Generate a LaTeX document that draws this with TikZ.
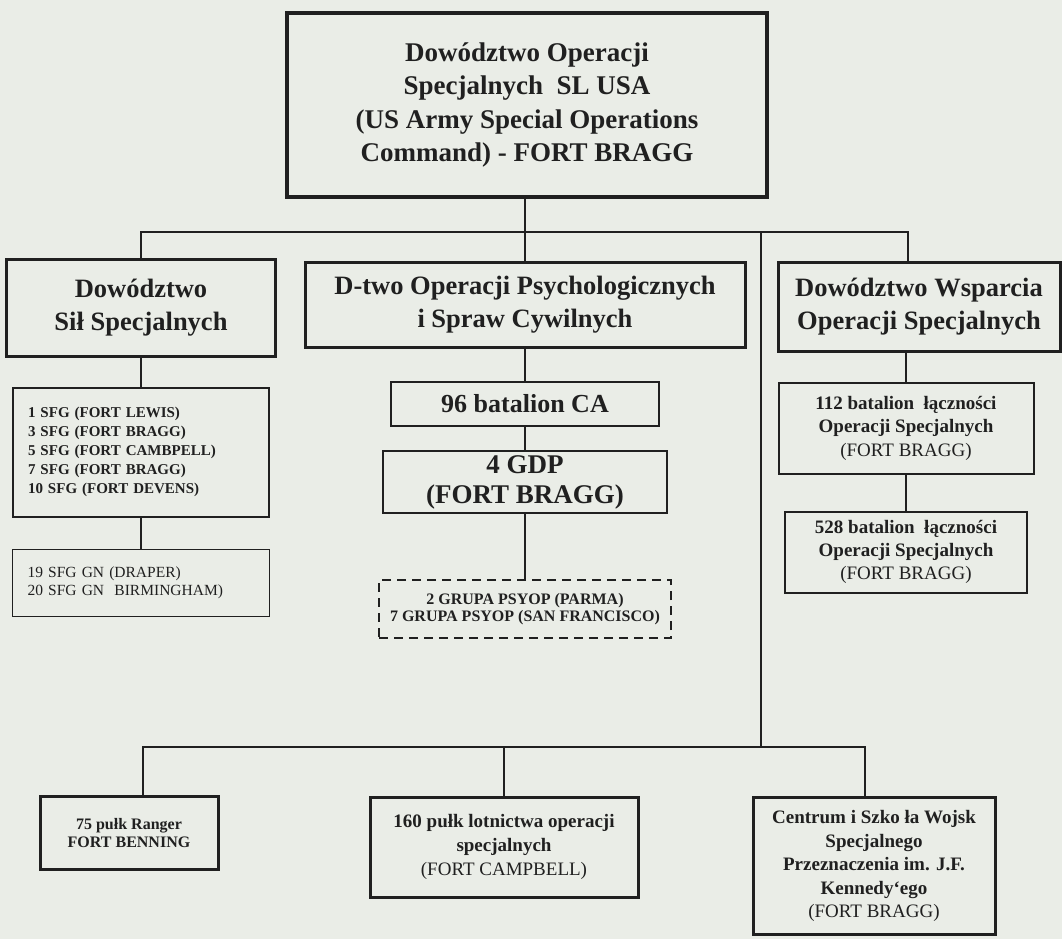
\documentclass[tikz,border=0pt]{standalone}
\usepackage{fontspec}
\setmainfont{Liberation Serif}
\usepackage{tikz}
\usetikzlibrary{positioning, calc}
\usepackage{xcolor}
\definecolor{scanbg}{RGB}{234, 237, 231}
\definecolor{inkgray}{RGB}{32, 32, 32}
\tikzset{
  hqbox/.style={
    rectangle, draw=inkgray, line width=4pt,
    align=center, inner sep=0pt, text=inkgray,
    font=\bfseries\fontsize{27}{33.5}\selectfont
  },
  cmdbox/.style={
    rectangle, draw=inkgray, line width=3pt,
    align=center, inner sep=0pt, text=inkgray,
    font=\bfseries\fontsize{26.5}{33}\selectfont
  },
  unitbox/.style={
    rectangle, draw=inkgray, line width=2.5pt,
    align=center, inner sep=0pt, text=inkgray
  },
  listbox/.style={
    rectangle, draw=inkgray, line width=2pt,
    align=left, inner xsep=15pt, inner ysep=0pt, text=inkgray
  },
  dbox/.style={
    rectangle, draw=inkgray, line width=2pt, dash pattern=on 9pt off 6pt,
    align=center, inner sep=0pt, text=inkgray,
    font=\bfseries\fontsize{16}{17.5}\selectfont
  },
  conn/.style={draw=inkgray, line width=1.8pt},
}

\begin{document}
\begin{tikzpicture}[x=1pt, y=-1pt]
  \fill[scanbg] (0,0) rectangle (1062,939);
  \useasboundingbox (0,0) rectangle (1062,939);

  % dowodztwo glowne
  \node[hqbox, minimum width=480pt, minimum height=183pt] (hq) at (527,105)
    {Dowództwo Operacji\\Specjalnych\ \ SL USA\\(US Army Special Operations\\Command) - FORT BRAGG};

  % drugi poziom
  \node[cmdbox, minimum width=269pt, minimum height=97pt] (sil) at (141,308)
    {Dowództwo\\Sił Specjalnych};
  \node[cmdbox, minimum width=440pt, minimum height=85pt] (psy) at (525,305)
    {D-two Operacji Psychologicznych\\i Spraw Cywilnych};
  \node[cmdbox, minimum width=282pt, minimum height=89pt] (wsp) at (919,307)
    {Dowództwo Wsparcia\\Operacji Specjalnych};

  % sily specjalne
  \node[listbox, text width=226pt, minimum height=129pt,
        font=\bfseries\fontsize{15}{19}\selectfont] (sfg) at (141,452)
    {1 SFG (FORT LEWIS)\\3 SFG (FORT BRAGG)\\5 SFG (FORT CAMBPELL)\\7 SFG (FORT BRAGG)\\10 SFG (FORT DEVENS)};
  \node[listbox, line width=1.6pt, text width=227pt, minimum height=67pt,
        font=\fontsize{15.5}{18}\selectfont] (gn) at (141,583)
    {19 SFG GN (DRAPER)\\20 SFG GN\ \ BIRMINGHAM)};

  % operacje psychologiczne
  \node[unitbox, minimum width=268pt, minimum height=44pt,
        font=\bfseries\fontsize{26}{30}\selectfont] (b96) at (525,404) {96 batalion CA};
  \node[unitbox, minimum width=284pt, minimum height=62pt,
        font=\bfseries\fontsize{27}{30}\selectfont] (gdp) at (525,482) {4 GDP\\(FORT BRAGG)};
  \node[dbox, minimum width=292pt, minimum height=58pt] (psyop) at (525,609)
    {2 GRUPA PSYOP (PARMA)\\7 GRUPA PSYOP (SAN FRANCISCO)};

  % wsparcie
  \node[unitbox, line width=2pt, minimum width=255pt, minimum height=91pt,
        font=\bfseries\fontsize{19}{23.5}\selectfont] (b112) at (906,428)
    {112 batalion\ \ łączności\\Operacji Specjalnych\\{\mdseries (FORT BRAGG)}};
  \node[unitbox, line width=2pt, minimum width=242pt, minimum height=81pt,
        font=\bfseries\fontsize{19}{23}\selectfont] (b528) at (906,552)
    {528 batalion\ \ łączności\\Operacji Specjalnych\\{\mdseries (FORT BRAGG)}};

  % dolny rzad
  \node[unitbox, line width=3pt, minimum width=178pt, minimum height=73pt,
        font=\bfseries\fontsize{16}{18.5}\selectfont] (r75) at (129,833)
    {75 pułk Ranger\\FORT BENNING};
  \node[unitbox, line width=3pt, minimum width=268pt, minimum height=100pt,
        font=\bfseries\fontsize{19}{24}\selectfont] (p160) at (504,847)
    {160 pułk lotnictwa operacji\\specjalnych\\{\mdseries (FORT CAMPBELL)}};
  \node[unitbox, line width=3pt, minimum width=242pt, minimum height=137pt,
        font=\bfseries\fontsize{19}{23.5}\selectfont] (jfk) at (874,866)
    {Centrum i Szko ła Wojsk\\Specjalnego\\Przeznaczenia im. J.F.\\Kennedy`ego\\{\mdseries (FORT BRAGG)}};

  % linie
  \coordinate (busT) at (525,232);
  \coordinate (busB) at (761,747);
  \draw[conn] (busT |- hq.south) -- (busT);
  \draw[conn] (busT) -| (sil.north);
  \draw[conn] (busT) -- (psy.north);
  \draw[conn] (busT) -| ($(wsp.north)+(-11,0)$);
  \draw[conn] (sil) -- (sfg);
  \draw[conn] (sfg) -- (gn);
  \draw[conn] (psy) -- (b96);
  \draw[conn] (b96) -- (gdp);
  \draw[conn] (gdp) -- (psyop);
  \draw[conn] (wsp.south -| b112) -- (b112);
  \draw[conn] (b112) -- (b528);
  \draw[conn] (busT -| busB) -- (busB);
  \draw[conn] (busB) -| ($(r75.north)+(14,0)$);
  \draw[conn] (busB) -| (p160.north);
  \draw[conn] (busB) -| ($(jfk.north)+(-9,0)$);
\end{tikzpicture}
\end{document}
